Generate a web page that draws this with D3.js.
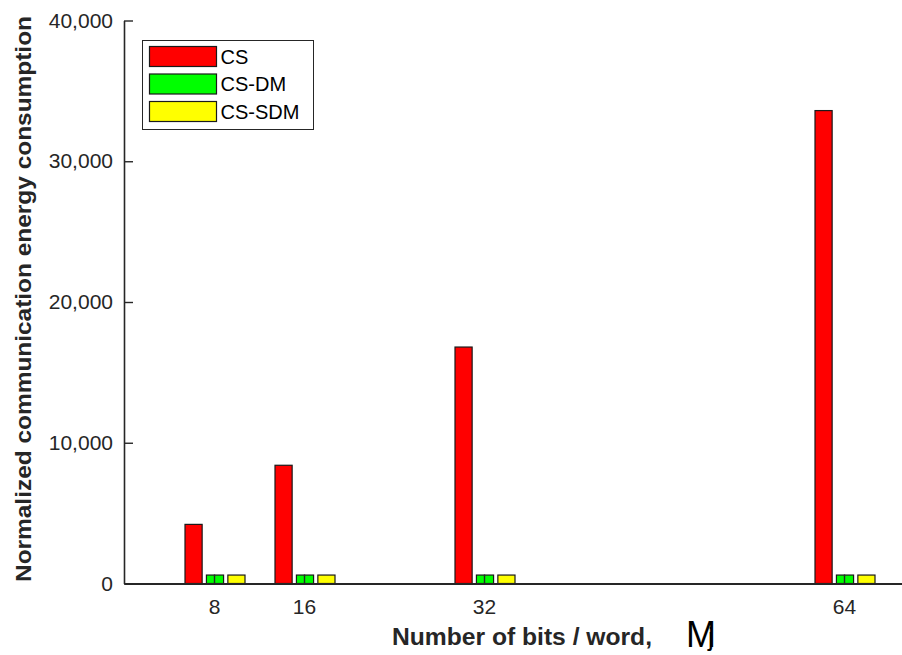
<!DOCTYPE html>
<html>
<head>
<meta charset="utf-8">
<title>Normalized communication energy</title>
<script src="https://d3js.org/d3.v7.min.js"></script>
<style>
    body { margin: 0; background: #fff; }
    text { font-family: "Liberation Sans", Arial, Helvetica, sans-serif; }
</style>
</head>
<body>
<div id="chart"></div>
<script>
    // data
    var bitsPerWord = [8, 16, 32, 64]
    var seriesNames = ["CS", "CS-DM", "CS-SDM"]
    var csValues = [4200, 8400, 16800, 33600]
    var csDmValues = [600, 600, 600, 600]
    var csSdmValues = [600, 600, 600, 600]
    var yTicks = [0, 10000, 20000, 30000, 40000]
    var colors = ["#ff0000", "#00ff00", "#ffff00"]

    var W = 902, H = 655
    var margin = { top: 20.5, right: -9.5, bottom: 71.5, left: 124 }
    var width = W - margin.left - margin.right,
        height = H - margin.top - margin.bottom

    var svg = d3.select("#chart").append("svg")
        .attr("width", W)
        .attr("height", H)

    var g = svg.append("g")
        .attr("transform", "translate(" + margin.left + "," + margin.top + ")")

    var x = d3.scaleLinear().domain([0, 70]).range([0, width])
    var y = d3.scaleLinear().domain([0, 40000]).range([height, 0])

    // offset of each series inside a group, in pixels
    var inner = d3.scaleBand().domain(seriesNames).range([-29, 31]).paddingInner(0.2)

    var table = bitsPerWord.map(function (m, i) {
        return { m: m, values: [csValues[i], csDmValues[i], csSdmValues[i]] }
    })

    // bars
    var groups = g.selectAll(".grp")
        .data(table)
        .enter().append("g")
        .attr("class", "grp")
        .attr("transform", function (d) { return "translate(" + x(d.m) + ",0)" })

    groups.selectAll("rect")
        .data(function (d) { return d.values.map(function (v, k) { return { name: seriesNames[k], v: v, k: k } }) })
        .enter().append("rect")
        .attr("x", function (d) { return inner(d.name) })
        .attr("width", inner.bandwidth())
        .attr("y", function (d) { return y(d.v) })
        .attr("height", function (d) { return y(0) - y(d.v) })
        .attr("fill", function (d) { return colors[d.k] })
        .attr("stroke", "#1a1a1a")
        .attr("stroke-width", 1.2)

    // axes
    var axisColor = "#262626"
    var tickLen = 9

    var xAxis = g.append("g")
        .attr("transform", "translate(0," + height + ")")
        .call(d3.axisBottom(x).tickValues(bitsPerWord).tickSizeInner(-tickLen).tickSizeOuter(0).tickPadding(16))
    xAxis.select(".domain").attr("stroke", axisColor).attr("stroke-width", 2.2)

    var yAxis = g.append("g")
        .call(d3.axisLeft(y).tickValues(yTicks).tickFormat(d3.format(",")).tickSizeInner(-tickLen).tickSizeOuter(0).tickPadding(11))
    yAxis.select(".domain").attr("stroke", axisColor).attr("stroke-width", 1.6)

    var yRight = g.append("g")
        .attr("transform", "translate(" + width + ",0)")
        .call(d3.axisRight(y).tickValues(yTicks).tickFormat("").tickSizeInner(-tickLen).tickSizeOuter(0))
    yRight.select(".domain").attr("stroke", axisColor).attr("stroke-width", 1.6)

    g.selectAll(".tick line").attr("stroke", axisColor).attr("stroke-width", 1.4)
    g.selectAll(".tick text")
        .attr("fill", axisColor)
        .style("font-size", "21px")

    // axis titles
    svg.append("text")
        .attr("x", 392)
        .attr("y", 645)
        .attr("textLength", 260)
        .attr("lengthAdjust", "spacingAndGlyphs")
        .style("font-size", "23px")
        .style("font-weight", "bold")
        .attr("fill", axisColor)
        .text("Number of bits / word,")

    // M with the j drawn over its right leg, kept in one text element
    var mj = svg.append("text")
        .attr("x", 686)
        .attr("y", 647)
        .attr("fill", "#000")
    mj.append("tspan").style("font-size", "36px").text("M")
    mj.append("tspan").attr("dx", -8).attr("dy", -1).style("font-size", "26px").text("j")

    svg.append("text")
        .attr("transform", "translate(31,299) rotate(-90)")
        .attr("text-anchor", "middle")
        .attr("textLength", 566)
        .attr("lengthAdjust", "spacingAndGlyphs")
        .style("font-size", "22px")
        .style("font-weight", "bold")
        .attr("fill", axisColor)
        .text("Normalized communication energy consumption")

    // legend
    var legend = svg.append("g").attr("transform", "translate(142.5,40.5)")
    legend.append("rect")
        .attr("width", 171)
        .attr("height", 89)
        .attr("fill", "#fff")
        .attr("stroke", axisColor)
        .attr("stroke-width", 1)

    var items = legend.selectAll(".item")
        .data(seriesNames)
        .enter().append("g")
        .attr("class", "item")
        .attr("transform", function (d, i) { return "translate(7," + (6 + i * 27.5) + ")" })

    items.append("rect")
        .attr("width", 67)
        .attr("height", 20)
        .attr("fill", function (d, i) { return colors[i] })
        .attr("stroke", "#1a1a1a")
        .attr("stroke-width", 1.2)

    items.append("text")
        .attr("x", 71)
        .attr("y", 17)
        .style("font-size", "20px")
        .attr("fill", "#000")
        .text(function (d) { return d })
</script>
</body>
</html>
